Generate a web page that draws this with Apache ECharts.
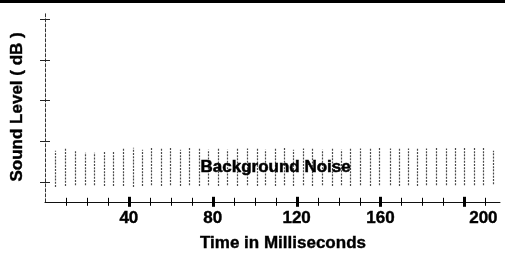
<!DOCTYPE html>
<html>
<head>
<meta charset="utf-8">
<script src="https://cdn.jsdelivr.net/npm/echarts@6/dist/echarts.min.js"></script>
<style>
html,body{margin:0;padding:0;background:#fff;}
#c{width:505px;height:257px;}
</style>
</head>
<body>
<div id="c"></div>
<script>
// Noise line times (ms)
const noiseTime = [4.8, 9.5, 14.3, 19.0, 23.3, 28.1, 32.4, 37.1, 41.9, 46.2,
  50.5, 55.2, 59.5, 64.3, 68.6, 73.3, 77.6, 82.4, 86.7, 91.4,
  96.2, 101.0, 104.8, 109.5, 113.8, 118.1, 122.9, 127.1, 131.9, 136.7,
  141.4, 145.7, 150.0, 154.8, 159.5, 164.3, 168.6, 172.9, 177.6, 181.9,
  186.7, 191.4, 195.7, 200.0, 204.8, 209.0, 213.8];
// Top of each dotted noise line (sound level units)
const noiseTop = [25.2, 26.6, 25.2, 24.2, 24.2, 25.2, 25.2, 26.6, 26.6, 25.7,
  26.6, 26.2, 26.6, 25.7, 26.6, 26.2, 25.7, 26.2, 25.7, 26.6,
  26.2, 26.6, 25.7, 26.2, 26.6, 25.7, 26.2, 26.6, 25.7, 26.2,
  25.7, 26.6, 26.2, 26.6, 26.6, 26.2, 26.6, 26.2, 26.6, 26.2,
  26.6, 26.2, 26.6, 26.6, 26.6, 26.6, 25.2];
// Bottom of each dotted noise line
const noiseBottom = [7.3, 7.8, 8.2, 8.2, 8.2, 7.8, 7.8, 7.8, 7.3, 7.8,
  8.2, 7.8, 8.2, 7.8, 8.2, 7.8, 8.2, 7.8, 8.2, 7.8,
  8.2, 7.8, 8.2, 7.8, 8.2, 7.8, 8.2, 7.8, 8.2, 7.8,
  8.2, 7.8, 8.2, 7.8, 8.2, 8.2, 7.8, 8.2, 7.8, 8.2,
  8.2, 8.2, 8.2, 8.2, 8.2, 8.2, 8.7];

const xLabelValues = [40, 80, 120, 160, 200];
const xMajorTicks = [40, 80, 120, 160, 200];
const xMinorTicks = [10, 20, 30, 50, 60, 70, 90, 100, 110, 130, 140, 150, 170, 180, 190, 210];
const yTickValues = [10, 30, 50, 70, 90];
const xMin = 0, xMax = 217, yMin = 0, yMax = 93.5;

const annotationText = 'Background Noise';
const annotationPoint = [110, 17];

const xTitle = 'Time in Milliseconds';
const yTitle = 'Sound Level ( dB )';

const FONT = '"Liberation Sans", Arial, sans-serif';
const BOLD = {fontFamily: FONT, fontWeight: 'bold', fontSize: 17, color: '#000',
  textBorderColor: '#000', textBorderWidth: 0.4};

const chart = echarts.init(document.getElementById('c'), null, {renderer: 'canvas'});

const noiseData = noiseTime.map((t, i) => [t, noiseBottom[i], noiseTop[i]]);

// tick data: [axis('x'|'y'), value, halfLength, width]
const tickData = []
  .concat(xMajorTicks.map(v => ['x', v, 5, 3]))
  .concat(xMinorTicks.map(v => ['x', v, 4, 1]))
  .concat(yTickValues.map(v => ['y', v, 5, 1]));

const option = {
  backgroundColor: '#fff',
  animation: false,
  grid: {left: 45, right: 5, top: 12, bottom: 52},
  xAxis: {
    type: 'value', min: xMin, max: xMax, interval: 40,
    axisLine: {show: true, onZero: false, lineStyle: {color: '#111', width: 1}},
    axisTick: {show: false},
    splitLine: {show: false},
    axisLabel: {
      show: true, margin: 8,
      customValues: xLabelValues,
      formatter: function (v) { return v === 200 ? '{r|200}' : '{n|' + v + '}'; },
      rich: {
        n: Object.assign({}, BOLD),
        r: Object.assign({padding: [0, 0, 0, 38]}, BOLD)
      }
    },
    name: xTitle, nameLocation: 'middle', nameGap: 33,
    nameTextStyle: Object.assign({padding: [0, 0, 0, 21]}, BOLD)
  },
  yAxis: {
    type: 'value', min: yMin, max: yMax, interval: 20,
    axisLine: {show: true, onZero: false, lineStyle: {color: '#333', width: 1, type: [3, 2]}},
    axisTick: {show: false},
    splitLine: {show: false},
    axisLabel: {show: false},
    name: yTitle, nameLocation: 'middle', nameRotate: 90, nameGap: 19,
    nameTextStyle: Object.assign({}, BOLD)
  },
  graphic: [{
    type: 'rect', left: 0, top: 0, shape: {width: 505, height: 3},
    style: {fill: '#000'}, silent: true
  }],
  series: [{
    type: 'custom',
    data: noiseData,
    renderItem: function (params, api) {
      const p1 = api.coord([api.value(0), api.value(1)]);
      const p2 = api.coord([api.value(0), api.value(2)]);
      return {
        type: 'line',
        shape: {x1: Math.round(p1[0]) + 0.5, y1: p1[1], x2: Math.round(p2[0]) + 0.5, y2: p2[1]},
        style: {stroke: '#4a4a4a', lineWidth: 1.2, lineDash: [2, 1.2]}
      };
    },
    z: 1
  }, {
    type: 'custom',
    clip: false,
    data: tickData,
    dimensions: ['axis', 'value', 'half', 'width'],
    encode: {x: 1},
    renderItem: function (params, api) {
      const d = tickData[params.dataIndex];
      const half = d[2], w = d[3];
      if (d[0] === 'x') {
        const p = api.coord([d[1], yMin]);
        const x = w % 2 ? Math.round(p[0]) + 0.5 : Math.round(p[0]);
        return {type: 'line', shape: {x1: x, y1: p[1] - half, x2: x, y2: p[1] + half},
          style: {stroke: '#000', lineWidth: w}};
      }
      const p = api.coord([xMin, d[1]]);
      const y = Math.round(p[1]) + 0.5;
      return {type: 'line', shape: {x1: p[0] - half, y1: y, x2: p[0] + half, y2: y},
        style: {stroke: '#222', lineWidth: w}};
    },
    z: 3
  }, {
    type: 'custom',
    clip: false,
    data: [annotationPoint],
    renderItem: function (params, api) {
      const p = api.coord([api.value(0), api.value(1)]);
      return {
        type: 'text', x: p[0], y: p[1],
        style: {text: annotationText, fontFamily: FONT, fontWeight: 'bold', fontSize: 17,
          fill: '#000', stroke: '#000', lineWidth: 0.5, align: 'center', verticalAlign: 'middle'}
      };
    },
    z: 5
  }]
};
chart.setOption(option);
</script>
</body>
</html>
